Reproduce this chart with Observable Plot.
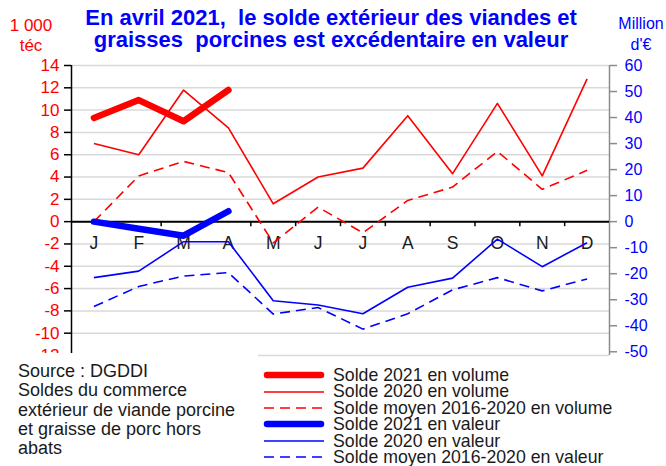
<!DOCTYPE html>
<html>
<head>
<meta charset="utf-8">
<script src="https://cdn.jsdelivr.net/npm/d3@7"></script>
<script src="https://cdn.jsdelivr.net/npm/@observablehq/plot@0.6"></script>
<style>
  html, body { margin: 0; padding: 0; background: #fff; }
  #wrap { position: relative; width: 666px; height: 466px; overflow: hidden; font-family: Arial, "Liberation Sans", sans-serif; }
  #wrap svg { position: absolute; left: 0; top: 0; }
  .abs { position: absolute; white-space: pre; }
  #title { left: 0; top: 7px; width: 662px; text-align: center; font-weight: bold; font-size: 22px; line-height: 22px; color: #0000ff; }
  .unitL { color: #ff0000; font-size: 17px; text-align: center; width: 60px; line-height: 20px; }
  .unitR { color: #0000ff; font-size: 16px; text-align: center; width: 60px; line-height: 21px; }
  #source { left: 0; top: 353px; width: 258px; height: 113px; background: #fff; padding: 9px 0 0 18px; box-sizing: border-box; font-size: 18px; line-height: 19.3px; color: #1a1a1a; }
  #legend { left: 258px; top: 359px; width: 408px; height: 107px; background: #fff; padding: 8px 0 0 5px; box-sizing: border-box; }
  .row { display: flex; align-items: center; height: 16.4px; font-size: 17.7px; line-height: 16.4px; color: #1a1a1a; }
  .row svg { position: static !important; margin-right: 8px; }
</style>
</head>
<body>
<div id="wrap"></div>
<script>
// ---- Data ----
const months = ["J", "F", "M", "A", "M", "J", "J", "A", "S", "O", "N", "D"];
// Volume (1 000 téc), left axis
const volume2021 = [9.3, 10.9, 9.0, 11.8];
const volume2020 = [7.0, 6.0, 11.8, 8.4, 1.6, 4.0, 4.8, 9.5, 4.3, 10.6, 4.1, 12.8];
const volumeMoy = [0.0, 4.1, 5.4, 4.4, -1.9, 1.3, -1.0, 1.9, 3.1, 6.3, 2.9, 4.6];
// Valeur (Million d'€), right axis
const valeur2021 = [0.0, -2.7, -5.4, 4.0];
const valeur2020 = [-21.5, -19.0, -7.7, -7.7, -30.4, -32.0, -35.4, -25.2, -21.7, -6.7, -17.3, -8.1];
const valeurMoy = [-32.6, -24.9, -20.9, -19.6, -35.5, -33.0, -41.3, -35.4, -26.2, -21.5, -26.6, -22.0];
// Ticks
const leftTicks = d3.range(-12, 15, 2);
const rightTicks = d3.range(-50, 61, 10);
const legendLabels = [
  "Solde 2021 en volume",
  "Solde 2020 en volume",
  "Solde moyen 2016-2020 en volume",
  "Solde 2021 en valeur",
  "Solde 2020 en valeur",
  "Solde moyen 2016-2020 en valeur"
];
const titleLines = ["En avril 2021,  le solde extérieur des viandes et", "graisses  porcines est excédentaire en valeur"];
const sourceLines = ["Source : DGDDI", "Soldes du commerce", "extérieur de viande porcine", "et graisse de porc hors", "abats"];

// ---- Styles ----
const RED = "#ff0000", BLUE = "#0000ff";
const k = 14 / 60; // right axis (valeur) to left axis (volume) units
const styles = [
  {stroke: RED, strokeWidth: 6.5, dash: null},
  {stroke: RED, strokeWidth: 1.6, dash: null},
  {stroke: RED, strokeWidth: 1.6, dash: "10,6"},
  {stroke: BLUE, strokeWidth: 6.5, dash: null},
  {stroke: BLUE, strokeWidth: 1.6, dash: null},
  {stroke: BLUE, strokeWidth: 1.6, dash: "10,6"}
];

const toRows = (arr, right) => arr.map((v, i) => ({i: i + 0.5, v: right ? v * k : v}));
const series = [
  toRows(volume2021, false), toRows(volume2020, false), toRows(volumeMoy, false),
  toRows(valeur2021, true), toRows(valeur2020, true), toRows(valeurMoy, true)
];
const drawOrder = [2, 1, 5, 4, 0, 3];

const chart = Plot.plot({
  width: 666,
  height: 466,
  marginTop: 65,
  marginBottom: 111,
  marginLeft: 71,
  marginRight: 57,
  style: {fontFamily: "Arial, 'Liberation Sans', sans-serif", background: "transparent"},
  x: {domain: [0, 12], axis: null, label: null},
  y: {domain: [-12, 14], axis: null, label: null},
  marks: [
    Plot.gridY(leftTicks, {stroke: "#d9d9d9", strokeOpacity: 1, strokeWidth: 1.5}),
    Plot.ruleX([0], {stroke: "#000", strokeWidth: 1.5}),
    Plot.ruleX([12], {stroke: "#8c8c8c", strokeWidth: 1.5}),
    Plot.axisY(leftTicks, {anchor: "left", label: null, tickSize: 7, text: null, stroke: "#000", strokeWidth: 1.5}),
    Plot.axisY(leftTicks, {anchor: "left", label: null, tickSize: 0, tickPadding: 12, text: d => String(d), fill: RED, fontSize: 17}),
    Plot.axisY(rightTicks, {anchor: "right", label: null, y: d => d * k, tickSize: 7, text: null, stroke: "#8c8c8c", strokeWidth: 1.5}),
    Plot.axisY(rightTicks, {anchor: "right", label: null, y: d => d * k, tickSize: 0, tickPadding: 15, text: d => String(d), fill: BLUE, fontSize: 16}),
    Plot.ruleY([0], {stroke: "#000", strokeWidth: 2}),
    Plot.ruleX(d3.range(1, 12), {y1: 0, y2: -0.45, stroke: "#000", strokeWidth: 1.5}),
    Plot.text(months, {x: (d, i) => i + 0.5, y: () => 0, dy: 22, text: d => d, fontSize: 17.5, fill: "#1a1a1a"}),
    ...drawOrder.map(j => Plot.line(series[j], {
      x: "i", y: "v",
      stroke: styles[j].stroke,
      strokeWidth: styles[j].strokeWidth,
      strokeDasharray: styles[j].dash,
      strokeLinecap: styles[j].strokeWidth > 3 ? "round" : "butt",
      strokeLinejoin: "round"
    }))
  ]
});

const wrap = document.getElementById("wrap");
wrap.appendChild(chart);

function addDiv(cls, id, html, left, top) {
  const d = document.createElement("div");
  d.className = "abs " + (cls || "");
  if (id) d.id = id;
  d.innerHTML = html;
  if (left != null) d.style.left = left + "px";
  if (top != null) d.style.top = top + "px";
  wrap.appendChild(d);
  return d;
}
addDiv("", "title", titleLines.join("\n"));
addDiv("unitL", null, "1 000\ntéc", 1, 16);
addDiv("unitR", null, "Million\nd'€", 611, 13);
addDiv("", "source", sourceLines.join("\n"));

const legend = addDiv("", "legend", "");
legendLabels.forEach((lab, j) => {
  const s = styles[j];
  const row = document.createElement("div");
  row.className = "row";
  row.innerHTML = `<svg width="62" height="10"><line x1="${s.strokeWidth > 3 ? 4 : 1}" x2="${s.strokeWidth > 3 ? 58 : 61}" y1="5" y2="5" stroke="${s.stroke}" stroke-width="${s.strokeWidth}" ${s.dash ? `stroke-dasharray="${s.dash}"` : ""} stroke-linecap="${s.strokeWidth > 3 ? "round" : "butt"}"/></svg><span>${lab}</span>`;
  legend.appendChild(row);
});
</script>
</body>
</html>
